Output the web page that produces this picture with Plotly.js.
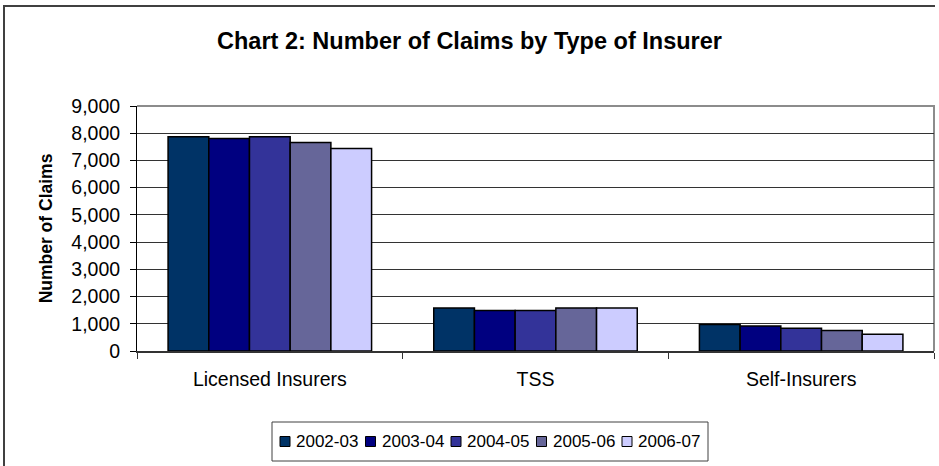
<!DOCTYPE html>
<html>
<head>
<meta charset="utf-8">
<script src="https://cdn.plot.ly/plotly-3.0.1.min.js"></script>
<style>
  html, body { margin: 0; padding: 0; background: #fff; }
  #chart { width: 939px; height: 466px; }
</style>
</head>
<body>
<div id="chart"></div>
<script>
// ---- Data ----
const categories = ['Licensed Insurers', 'TSS', 'Self-Insurers'];
const seriesNames = ['2002-03', '2003-04', '2004-05', '2005-06', '2006-07'];
const claims_2002_03 = [7870, 1580, 970];
const claims_2003_04 = [7810, 1490, 920];
const claims_2004_05 = [7870, 1490, 835];
const claims_2005_06 = [7660, 1580, 750];
const claims_2006_07 = [7440, 1580, 615];
const yTickValues = [0, 1000, 2000, 3000, 4000, 5000, 6000, 7000, 8000, 9000];
const titleText = 'Chart 2: Number of Claims by Type of Insurer';
const yTitleText = 'Number of Claims';

// ---- Styles ----
const seriesValues = [claims_2002_03, claims_2003_04, claims_2004_05, claims_2005_06, claims_2006_07];
const seriesColors = ['#003366', '#000080', '#333399', '#666699', '#CCCCFF'];
const FONT = 'Arial, "Liberation Sans", sans-serif';

const W = 939, H = 466;
const M = { l: 137, r: 5, t: 106, b: 115 };
const PW = W - M.l - M.r, PH = H - M.t - M.b;
const px = x => (x - M.l) / PW;
const py = y => (H - M.b - y) / PH;

const traces = seriesNames.map((name, i) => ({
  type: 'bar',
  name: name,
  x: categories,
  y: seriesValues[i],
  marker: { color: seriesColors[i], line: { color: '#000', width: 1.5 } },
  showlegend: false,
  hoverinfo: 'x+y+name'
}));

const shapes = [];
const annotations = [];
// outer chart frame (left + top)
shapes.push({
  type: 'path', xref: 'paper', yref: 'paper',
  path: `M ${px(4)},${py(H + 10)} L ${px(4)},${py(6)} L ${px(935)},${py(6)}`,
  line: { color: '#404040', width: 2 }
});
// plot-area border (top + right), gray
shapes.push({
  type: 'path', xref: 'paper', yref: 'paper', layer: 'below',
  path: `M 0,1 L 1,1 L 1,0`,
  line: { color: '#8c8c8c', width: 2 }
});
// legend box (compact Excel-style legend)
const lgLeft = 272, lgRight = 708, lgTop = 422, lgBottom = 461;
shapes.push({
  type: 'rect', xref: 'paper', yref: 'paper',
  x0: px(lgLeft), x1: px(lgRight), y0: py(lgBottom), y1: py(lgTop),
  line: { color: '#404040', width: 1 }, fillcolor: 'rgba(0,0,0,0)'
});
const lgMid = (lgTop + lgBottom) / 2;
seriesNames.forEach((name, i) => {
  const sx = 280 + i * 85.5;
  shapes.push({
    type: 'rect', xref: 'paper', yref: 'paper',
    x0: px(sx), x1: px(sx + 10), y0: py(lgMid + 5), y1: py(lgMid - 5),
    line: { color: '#000', width: 1 }, fillcolor: seriesColors[i]
  });
  annotations.push({
    xref: 'paper', yref: 'paper', x: px(sx + 14), y: py(lgMid),
    xanchor: 'left', yanchor: 'middle', showarrow: false,
    text: name, font: { family: FONT, size: 17, color: '#000' }
  });
});

const layout = {
  width: W, height: H,
  margin: M,
  paper_bgcolor: '#fff', plot_bgcolor: '#fff',
  barmode: 'group', bargap: 0.234, bargroupgap: 0,
  showlegend: false,
  title: {
    text: '<b>' + titleText + '</b>',
    font: { family: FONT, size: 23.5, color: '#000' },
    x: 0.5, xref: 'container', xanchor: 'center',
    y: 1 - 41 / H, yref: 'container', yanchor: 'middle'
  },
  xaxis: {
    type: 'category',
    showline: true, linecolor: '#333', linewidth: 1.5,
    ticks: 'outside', tickson: 'boundaries', ticklen: 6, tickcolor: '#333', tickwidth: 1,
    ticklabelstandoff: 10,
    showgrid: false, zeroline: false,
    tickfont: { family: FONT, size: 19.5, color: '#000' }
  },
  yaxis: {
    range: [0, 9000],
    tickvals: yTickValues, tickformat: ',d',
    showline: true, linecolor: '#000', linewidth: 1,
    ticks: 'outside', ticklen: 6, tickcolor: '#000', tickwidth: 1,
    ticklabelstandoff: 6,
    showgrid: true, gridcolor: '#333', gridwidth: 1,
    zeroline: false,
    tickfont: { family: FONT, size: 19.5, color: '#000' },
    title: { text: '<b>' + yTitleText + '</b>', font: { family: FONT, size: 17.5, color: '#000' }, standoff: 14 }
  },
  shapes: shapes,
  annotations: annotations
};

Plotly.newPlot('chart', traces, layout, { staticPlot: true, displayModeBar: false });
</script>
</body>
</html>
